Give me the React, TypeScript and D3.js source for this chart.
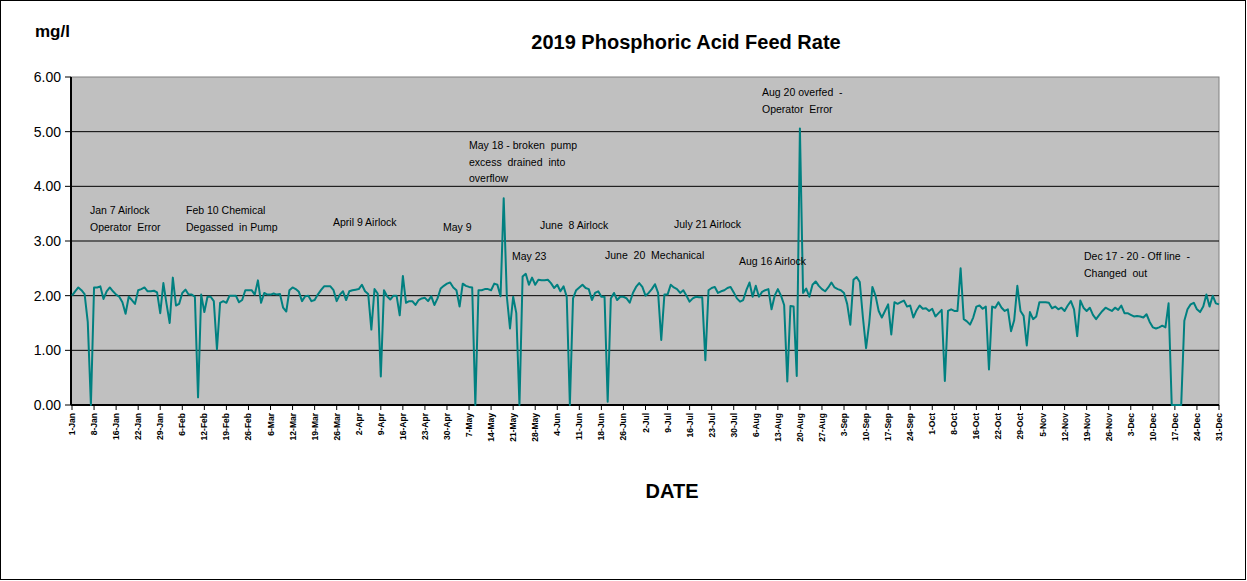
import React from "react";
import * as d3 from "d3";

const values: number[] = [
  2.00,2.08,2.15,2.10,2.03,1.52,0,2.15,2.15,2.17,
  1.94,2.08,2.15,2.08,2.02,1.98,1.88,1.67,1.98,1.92,
  1.85,2.10,2.12,2.15,2.08,2.08,2.09,2.06,1.68,2.23,
  1.85,1.50,2.33,1.82,1.85,2.05,2.11,2.02,2.02,1.98,
  0.14,2.02,1.70,1.98,1.98,1.90,1.02,1.87,1.90,1.87,
  2.00,2.00,2.00,1.88,1.92,2.10,2.10,2.10,2.02,2.28,
  1.87,2.05,2.02,2.02,2.04,2.02,2.03,1.78,1.71,2.10,
  2.15,2.12,2.07,1.90,1.99,2.00,1.90,1.92,2.02,2.10,
  2.17,2.17,2.17,2.10,1.90,2.02,2.08,1.92,2.08,2.10,
  2.11,2.12,2.20,2.08,2.03,1.38,2.12,2.04,0.52,2.10,
  1.99,1.93,2.00,2.00,1.64,2.36,1.87,1.90,1.90,1.83,
  1.92,1.95,1.96,1.90,1.99,1.83,1.95,2.13,2.18,2.22,
  2.24,2.15,2.10,1.80,2.22,2.18,2.16,2.15,0,2.10,
  2.10,2.12,2.12,2.10,2.22,2.20,1.99,3.78,1.98,1.40,
  1.98,1.68,0,2.35,2.40,2.20,2.33,2.20,2.29,2.28,
  2.28,2.29,2.23,2.14,2.20,2.08,2.17,1.98,0,1.95,
  2.10,2.15,2.20,2.14,2.12,1.92,2.05,2.08,1.98,1.98,
  0.06,1.95,2.05,1.92,1.98,1.98,1.95,1.87,2.05,2.16,
  2.23,2.16,2.00,2.05,2.12,2.21,2.05,1.19,2.02,2.02,
  2.20,2.15,2.12,2.05,2.10,2.00,1.89,1.95,1.98,1.97,
  1.97,0.82,2.10,2.14,2.16,2.05,2.08,2.10,2.14,2.16,
  2.06,1.95,1.89,1.92,2.10,2.24,1.98,2.18,1.98,2.07,
  2.10,2.12,1.75,2.00,2.12,2.00,1.83,0.43,1.81,1.80,
  0.53,5.06,2.05,2.13,1.98,2.20,2.26,2.18,2.12,2.08,
  2.15,2.24,2.15,2.12,2.10,2.05,1.85,1.47,2.29,2.34,
  2.25,1.60,1.04,1.50,2.16,2.00,1.72,1.60,1.72,1.84,
  1.29,1.88,1.85,1.88,1.91,1.80,1.82,1.60,1.73,1.82,
  1.76,1.77,1.72,1.76,1.62,1.68,1.74,0.44,1.72,1.75,
  1.72,1.72,2.50,1.57,1.53,1.47,1.60,1.80,1.82,1.76,
  1.80,0.65,1.80,1.78,1.88,1.78,1.72,1.75,1.35,1.55,
  2.18,1.72,1.63,1.09,1.70,1.57,1.62,1.88,1.88,1.88,
  1.87,1.77,1.80,1.75,1.78,1.72,1.82,1.90,1.75,1.26,
  1.91,1.78,1.72,1.78,1.65,1.57,1.65,1.72,1.78,1.75,
  1.72,1.78,1.74,1.82,1.68,1.68,1.65,1.62,1.63,1.62,
  1.60,1.66,1.52,1.42,1.40,1.42,1.45,1.42,1.86,0,
  0,0,0,1.54,1.75,1.84,1.87,1.75,1.70,1.80,
  2.02,1.80,2.00,1.86,1.84,
];

const tickLabels: string[] = [
  "1-Jan","8-Jan","16-Jan","22-Jan","29-Jan","6-Feb","12-Feb","19-Feb","26-Feb",
  "6-Mar","12-Mar","19-Mar","26-Mar","2-Apr","9-Apr","16-Apr","23-Apr","30-Apr",
  "7-May","14-May","21-May","28-May","4-Jun","11-Jun","18-Jun","26-Jun",
  "2-Jul","9-Jul","16-Jul","23-Jul","30-Jul","6-Aug","13-Aug","20-Aug","27-Aug",
  "3-Sep","10-Sep","17-Sep","24-Sep","1-Oct","8-Oct","16-Oct","22-Oct","29-Oct",
  "5-Nov","12-Nov","19-Nov","26-Nov","3-Dec","10-Dec","17-Dec","24-Dec","31-Dec",
];

const yTicks: number[] = [0, 1, 2, 3, 4, 5, 6];

const annotations: { lines: string[]; x: number; y: number }[] = [
  { lines: ["Jan 7 Airlock", "Operator  Error"], x: 90, y: 214 },
  { lines: ["Feb 10 Chemical", "Degassed  in Pump"], x: 186, y: 214 },
  { lines: ["April 9 Airlock"], x: 333, y: 226 },
  { lines: ["May 9"], x: 443, y: 231 },
  { lines: ["May 18 - broken  pump", "excess  drained  into", "overflow"], x: 469, y: 149 },
  { lines: ["June  8 Airlock"], x: 540, y: 229 },
  { lines: ["May 23"], x: 512, y: 260 },
  { lines: ["June  20  Mechanical"], x: 605, y: 259 },
  { lines: ["July 21 Airlock"], x: 674, y: 228 },
  { lines: ["Aug 16 Airlock"], x: 739, y: 265 },
  { lines: ["Aug 20 overfed  -", "Operator  Error"], x: 762, y: 96 },
  { lines: ["Dec 17 - 20 - Off line  -", "Changed  out"], x: 1084, y: 260 },
];

export default function App() {
  const left = 71, right = 1219, top = 77, bottom = 405;
  const x = d3.scaleLinear().domain([0, values.length - 1]).range([left + 1, right]);
  const y = d3.scaleLinear().domain([0, 6]).range([bottom, top]);
  const line = d3.line<number>().x((_, i) => x(i)).y((d) => y(d));
  const tickIdx = tickLabels.map((_, i) => i * 7);

  return (
    <svg width={1247} height={581} style={{ position: "absolute", left: 0, top: 0 }}
      fontFamily="'Liberation Sans', Arial, sans-serif">
      <rect x={0.5} y={0.5} width={1245} height={579} fill="#fff" stroke="#000" strokeWidth={1} />
      <rect x={left} y={top} width={right - left} height={bottom - top} fill="#c0c0c0" stroke="#808080" strokeWidth={1} />
      {yTicks.map((t) => (
        <g key={t}>
          {t > 0 && t < 6 && (
            <line x1={left} x2={right} y1={y(t)} y2={y(t)} stroke="#000" strokeWidth={1} />
          )}
          <line x1={left - 6} x2={left} y1={y(t)} y2={y(t)} stroke="#000" strokeWidth={1} />
          <text x={left - 10} y={y(t) + 5} textAnchor="end" fontSize={14} fill="#000">
            {t.toFixed(2)}
          </text>
        </g>
      ))}
      <line x1={left} x2={left} y1={top} y2={bottom} stroke="#000" strokeWidth={2} />
      <line x1={left} x2={right} y1={bottom} y2={bottom} stroke="#000" strokeWidth={2} />
      {tickIdx.map((ti, k) => (
        <g key={k}>
          <line x1={x(ti)} x2={x(ti)} y1={bottom} y2={bottom + 5} stroke="#000" strokeWidth={1} />
          <text transform={`translate(${x(ti) + 3},${bottom + 8}) rotate(-90)`} textAnchor="end"
            fontSize={8.5} fontWeight="bold" fill="#000">
            {tickLabels[k]}
          </text>
        </g>
      ))}
      <path d={line(values) || ""} fill="none" stroke="#008080" strokeWidth={2} strokeLinejoin="round" />
      {annotations.map((a, k) => (
        <text key={k} x={a.x} y={a.y} fontSize={10.5} fill="#000" style={{ whiteSpace: "pre" }}>
          {a.lines.map((l, j) => (
            <tspan key={j} x={a.x} dy={j === 0 ? 0 : 16.5}>{l}</tspan>
          ))}
        </text>
      ))}
      <text x={686} y={49} textAnchor="middle" fontSize={20} fontWeight="bold" fill="#000">
        2019 Phosphoric Acid Feed Rate
      </text>
      <text x={35} y={37} fontSize={17} fontWeight="bold" fill="#000">mg/l</text>
      <text x={672} y={498} textAnchor="middle" fontSize={20} fontWeight="bold" fill="#000">DATE</text>
    </svg>
  );
}
